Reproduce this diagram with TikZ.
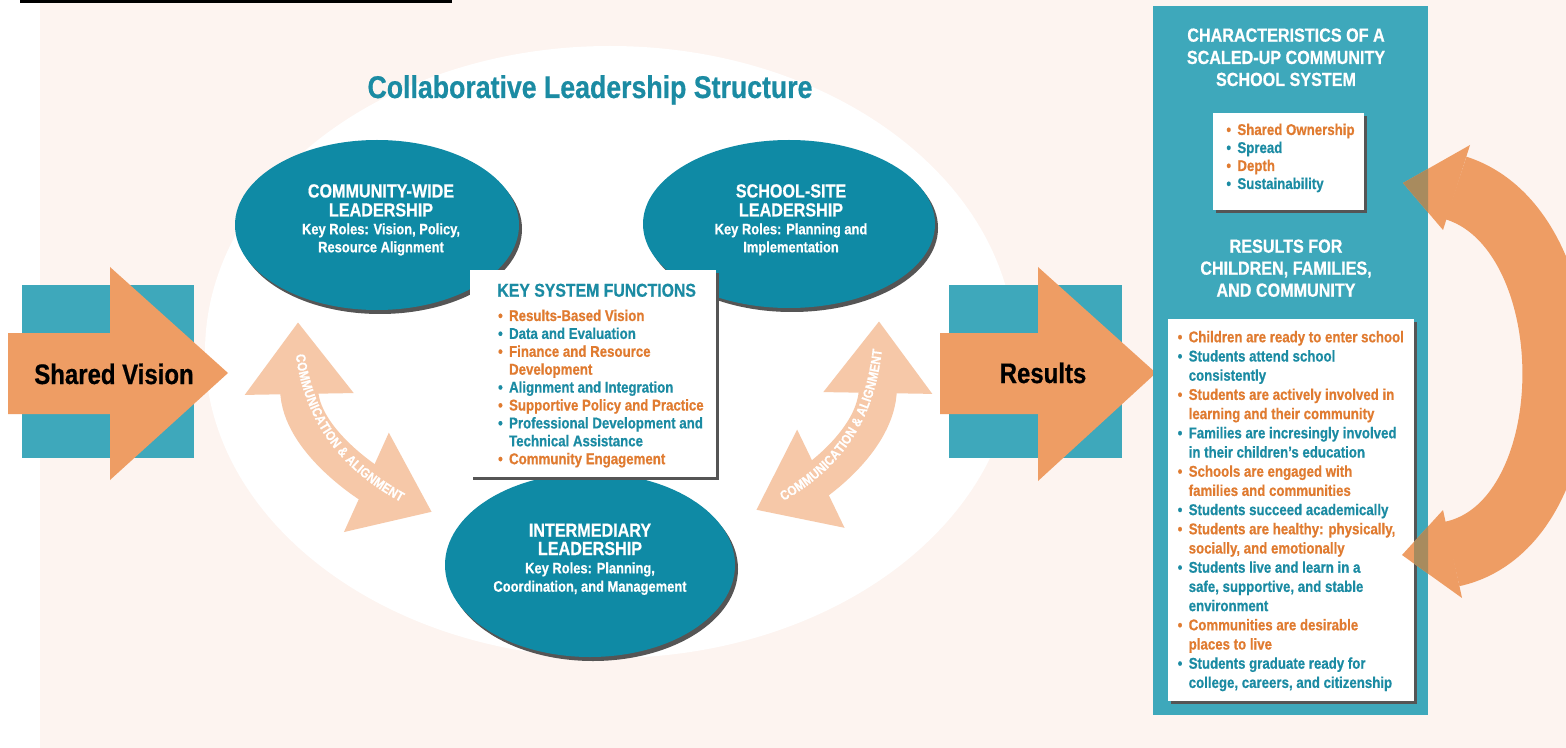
\documentclass[tikz,border=0pt]{standalone}
\usepackage{fontspec}
\setmainfont[FakeStretch=0.85, BoldFeatures={FakeBold=0.6}]{Liberation Sans}
\usetikzlibrary{arrows.meta,decorations.text,shapes.geometric,shadows}
\definecolor{bgpink}{HTML}{FDF4F0}
\definecolor{tealE}{HTML}{0F8AA5}
\definecolor{tealT}{HTML}{1B8BA3}
\definecolor{tealP}{HTML}{3EA8BB}
\definecolor{orT}{HTML}{E07B30}
\definecolor{orA}{HTML}{EE9D64}
\definecolor{peach}{HTML}{F6C8A8}
\definecolor{shad}{HTML}{555555}
\definecolor{olive}{HTML}{A88B5E}
\newcommand\bul{\makebox[5.5pt][l]{•}}
\newcommand\ind{\hspace*{5.5pt}}
\begin{document}
\begin{tikzpicture}[x=0.5pt,y=-0.5pt,
  lead/.style={ellipse, fill=tealE, inner sep=0, general shadow={fill=shad, shadow xshift=1.5pt, shadow yshift=-2pt}},
  wbox/.style={rectangle, fill=white, inner sep=0, general shadow={fill=shad, shadow xshift=1.5pt, shadow yshift=-1.5pt}},
  ehead/.style={inner sep=0, anchor=base, text=white, font=\fontsize{9.5}{10}\selectfont\bfseries},
  esub/.style={inner sep=0, anchor=base, text=white, font=\fontsize{7.6}{9}\selectfont\bfseries},
  ln/.style={inner sep=0, anchor=base west, font=\fontsize{7.8}{9}\selectfont\bfseries},
  bigtxt/.style={inner sep=0, anchor=base, text=black, font=\fontsize{14.1}{16}\selectfont\bfseries},
  comm/.style={draw=peach, line width=19pt, {Triangle[width=52pt,length=36pt]}-{Triangle[width=52pt,length=36pt]}},
  commtxt/.style={decorate, decoration={text along path, text align=center, raise=-2.4pt, text color=white,
     text={|\fontsize{6.8}{7}\selectfont\bfseries|COMMUNICATION {\&} ALIGNMENT}}},
  cyc/.style={line width=33pt, line cap=butt},
]
\useasboundingbox (0,0) rectangle (1566,748);
% background
\fill[white] (0,0) rectangle (1566,748);
\fill[bgpink] (40,0) rectangle (1566,748);
\fill[black] (20,0) rectangle (452,3);
\fill[white] (610,352) ellipse [x radius=405, y radius=306];

% title
\node[inner sep=0, anchor=base, text=tealT, font=\fontsize{15.7}{18}\selectfont\bfseries] (title) at (590,98) {Collaborative Leadership Structure};

% shared vision arrow
\fill[tealP] (22,285) rectangle (194,458);
\fill[orA] (8,333) -- (110,333) -- (110,267) -- (228,373) -- (110,480) -- (110,414) -- (8,414) -- cycle;
\node[bigtxt] (sv) at (114,384) {Shared Vision};

% results arrow
\fill[tealP] (949,285) rectangle (1122,458);
\fill[orA] (940,333) -- (1038,333) -- (1038,267) -- (1156,373) -- (1038,481) -- (1038,414) -- (940,414) -- cycle;
\node[bigtxt] (res) at (1043,383) {Results};

% leadership ellipses
\node[lead, minimum width=142pt, minimum height=85pt] (cw) at (377,225) {};
\node[lead, minimum width=146pt, minimum height=84pt] (ss) at (789,224) {};
\node[lead, minimum width=145pt, minimum height=92pt] (im) at (590,565) {};

\node[ehead] (cw1) at (381,197.5) {COMMUNITY-WIDE};
\node[ehead] (cw2) at (381,216.5) {LEADERSHIP};
\node[esub] (cw3) at (381,234.3) {Key Roles: Vision, Policy,};
\node[esub] (cw4) at (381,252.3) {Resource Alignment};

\node[ehead] (ss1) at (791,197.5) {SCHOOL-SITE};
\node[ehead] (ss2) at (791,216.5) {LEADERSHIP};
\node[esub] (ss3) at (791,234.3) {Key Roles: Planning and};
\node[esub] (ss4) at (791,252.3) {Implementation};

\node[ehead] (im1) at (590,536.7) {INTERMEDIARY};
\node[ehead] (im2) at (590,555) {LEADERSHIP};
\node[esub] (im3) at (590,573.3) {Key Roles: Planning,};
\node[esub] (im4) at (590,591.7) {Coordination, and Management};

% key system functions
\node[wbox, minimum width=123pt, minimum height=103.5pt] (ksf) at (593,373.5) {};
\node[inner sep=0, anchor=base west, text=tealT, font=\fontsize{9.3}{10}\selectfont\bfseries] (ksft) at (497,296.7) {KEY SYSTEM FUNCTIONS};
\foreach \t/\c [count=\i from 0] in {
  {\bul Results-Based Vision}/orT,
  {\bul Data and Evaluation}/tealT,
  {\bul Finance and Resource}/orT,
  {\ind Development}/orT,
  {\bul Alignment and Integration}/tealT,
  {\bul Supportive Policy and Practice}/orT,
  {\bul Professional Development and}/tealT,
  {\ind Technical Assistance}/tealT,
  {\bul Community Engagement}/orT}
  \node[ln, text=\c] (ksf\i) at (497.7, 321+17.9*\i) {\t};

% communication arrows
\coordinate (la) at (298,322);
\coordinate (lb) at (432,512);
\draw[comm] (la) .. controls (300,440) and (370,484) .. (lb);
\path[commtxt] (la) .. controls (300,440) and (370,484) .. (lb);
\coordinate (ra) at (879,321);
\coordinate (rb) at (756,510);
\draw[comm] (rb) .. controls (814,482) and (877,440) .. (ra);
\path[commtxt] (rb) .. controls (814,482) and (877,440) .. (ra);

% right panel
\node[rectangle, fill=tealP, inner sep=0, minimum width=137.5pt, minimum height=354.5pt] (panel) at (1290.5,360.5) {};
\node[ehead] (ch1) at (1286,41.7) {CHARACTERISTICS OF A};
\node[ehead] (ch2) at (1286,64) {SCALED-UP COMMUNITY};
\node[ehead] (ch3) at (1286,86) {SCHOOL SYSTEM};
\node[wbox, minimum width=75.5pt, minimum height=48.5pt] (b1) at (1288.5,161.5) {};
\foreach \t/\c [count=\i from 0] in {
  {\bul Shared Ownership}/orT,
  {\bul Spread}/tealT,
  {\bul Depth}/orT,
  {\bul Sustainability}/tealT}
  \node[ln, text=\c] (bo\i) at (1226, 135+18*\i) {\t};

\node[ehead] (rh1) at (1286,252.7) {RESULTS FOR};
\node[ehead] (rh2) at (1286,274.7) {CHILDREN, FAMILIES,};
\node[ehead] (rh3) at (1286,296.7) {AND COMMUNITY};
\node[wbox, minimum width=123pt, minimum height=191pt] (b2) at (1291,510) {};
\foreach \t/\c [count=\i from 0] in {
  {\bul Children are ready to enter school}/orT,
  {\bul Students attend school}/tealT,
  {\ind consistently}/tealT,
  {\bul Students are actively involved in}/orT,
  {\ind learning and their community}/orT,
  {\bul Families are incresingly involved}/tealT,
  {\ind in their children’s education}/tealT,
  {\bul Schools are engaged with}/orT,
  {\ind families and communities}/orT,
  {\bul Students succeed academically}/tealT,
  {\bul Students are healthy: physically,}/orT,
  {\ind socially, and emotionally}/orT,
  {\bul Students live and learn in a}/tealT,
  {\ind safe, supportive, and stable}/tealT,
  {\ind environment}/tealT,
  {\bul Communities are desirable}/orT,
  {\ind places to live}/orT,
  {\bul Students graduate ready for}/tealT,
  {\ind college, careers, and citizenship}/tealT}
  \node[ln, text=\c] (rl\i) at (1177.3, 342.3+19.2*\i) {\t};

% big cycle arrow
\coordinate (cb) at (1452,554);
\coordinate (ct) at (1456,188);
\draw[cyc, draw=orA] (cb) .. controls (1589,524.5) and (1589.4,230.4) .. (ct);
\fill[orA] (1470,145) -- (1403,183) -- (1443,230) -- cycle;
\fill[orA] (1443,510) -- (1402,555) -- (1462,598) -- cycle;
\begin{scope}
  \clip (1364,6) rectangle (1428,319) (1414,319) rectangle (1428,715);
  \fill[olive] (1470,145) -- (1403,183) -- (1443,230) -- cycle;
  \fill[olive] (1443,510) -- (1402,555) -- (1462,598) -- cycle;
\end{scope}
\end{tikzpicture}
\end{document}
